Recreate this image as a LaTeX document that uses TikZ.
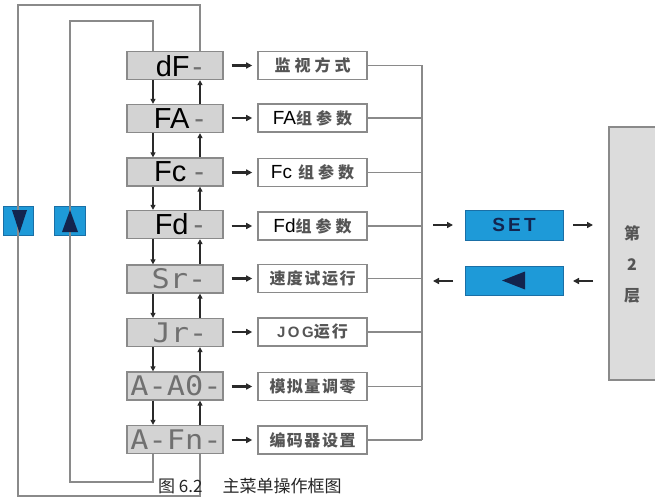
\documentclass[tikz,border=0pt]{standalone}
\usepackage{fontspec}
\setmainfont{Liberation Sans}
\newfontfamily\cjk{Noto Sans CJK SC}
\newfontfamily\segfont{DejaVu Sans Mono}
\usetikzlibrary{arrows.meta}
\definecolor{loopgray}{HTML}{8A8A8A}
\definecolor{boxgray}{HTML}{D3D3D3}
\definecolor{layergray}{HTML}{DCDCDC}
\definecolor{segcol}{HTML}{707070}
\definecolor{cjkgray}{HTML}{555555}
\definecolor{keyblue}{HTML}{1E9AD8}
\definecolor{keyedge}{HTML}{1A6FA6}
\definecolor{navy}{HTML}{13244E}
\definecolor{arrowdark}{HTML}{2A2A2A}
\newcommand{\gapc}{\hspace{4pt}}
\begin{document}
\begin{tikzpicture}[x=1pt,y=-1pt,
  menubox/.style={draw=loopgray, fill=boxgray, line width=1.3pt, minimum width=96pt, minimum height=28pt, inner sep=0pt},
  descbox/.style={draw=loopgray, fill=white, line width=1.6pt, minimum width=109pt, minimum height=28pt, inner sep=0pt, font=\cjk\bfseries\fontsize{16}{16}\selectfont, text=cjkgray},
  biglabel/.style={inner sep=0pt, font=\fontsize{29}{29}\selectfont},
  seglabel/.style={inner sep=0pt, font=\segfont\fontsize{27}{27}\selectfont, text=segcol},
  loopline/.style={draw=loopgray, line width=1.2pt},
  vert/.style={draw=arrowdark, line width=1.7pt, -{Triangle[length=5pt,width=5pt]}},
  short/.style={draw=arrowdark, line width=2.2pt, -{Triangle[length=6pt,width=6pt]}},
  keybox/.style={draw=keyedge, fill=keyblue, line width=0.8pt, inner sep=0pt},
  layertext/.style={inner sep=0pt, font=\cjk\bfseries\fontsize{16}{16}\selectfont, text=cjkgray},
]
\useasboundingbox (0,0) rectangle (655,497);
\fill[white] (0,0) rectangle (655,497);

% menu boxes (left column)
\foreach \i/\y in {1/65.5,2/118.5,3/172,4/224.5,5/279,6/332.5,7/386,8/439.5}{
  \node[menubox] (L\i) at (175,\y) {};
}
% labels in menu boxes
\node[biglabel] (t1) at (179,66) {dF\hspace{3pt}{\color{segcol}-}};
\node[biglabel] (t2) at (179,118.5) {FA\hspace{5pt}{\color{segcol}-}};
\node[biglabel] (t3) at (179,172) {Fc\hspace{8pt}{\color{segcol}-}};
\node[biglabel] (t4) at (179,224.5) {Fd\hspace{5pt}{\color{segcol}-}};
\node[seglabel] (t5) at (179,279) {\scalebox{1.12}[1]{Sr-}};
\node[seglabel] (t6) at (180,332.5) {\scalebox{1.12}[1]{Jr-}};
\node[seglabel] (t7) at (176,386) {\scalebox{1.12}[1]{A-A0-}};
\node[seglabel] (t8) at (176,439.5) {\scalebox{1.12}[1]{A-Fn-}};

% description boxes (right column)
\node[descbox] (R1) at (312.5,65.5) {监\gapc 视\gapc 方\gapc 式};
\node[descbox] (R2) at (312.5,118) {{\fontspec{Liberation Sans}\mdseries\fontsize{19}{19}\selectfont\color{black}FA}组\gapc 参\gapc 数};
\node[descbox] (R3) at (312.5,172.5) {{\fontspec{Liberation Sans}\mdseries\fontsize{19}{19}\selectfont\color{black}Fc}\hspace{6pt}组\gapc 参\gapc 数};
\node[descbox] (R4) at (312.5,226) {{\fontspec{Liberation Sans}\mdseries\fontsize{19}{19}\selectfont\color{black}Fd}组\gapc 参\gapc 数};
\node[descbox] (R5) at (312.5,278.5) {速\hspace{1.5pt}度\hspace{1.5pt}试\hspace{1.5pt}运\hspace{1.5pt}行};
\node[descbox] (R6) at (312.5,332) {{\fontspec{Liberation Sans}\bfseries\fontsize{15}{15}\selectfont J\,O\,G}运\hspace{2pt}行};
\node[descbox] (R7) at (312.5,386.5) {模\hspace{1.5pt}拟\hspace{1.5pt}量\hspace{1.5pt}调\hspace{1.5pt}零};
\node[descbox] (R8) at (312.5,440) {编\hspace{1.5pt}码\hspace{1.5pt}器\hspace{1.5pt}设\hspace{1.5pt}置};

% short arrows menu -> description
\foreach \i in {1,...,8}{
  \draw[short] ([xshift=8pt]L\i.east |- R\i.west) -- ([xshift=-5pt]R\i.west);
}

% vertical arrows between menu boxes
\foreach \i/\j in {1/2,2/3,3/4,4/5,5/6,6/7,7/8}{
  \draw[vert] ([xshift=-22pt]L\i.south) -- ([xshift=-22pt]L\j.north);
  \draw[vert] ([xshift=25pt]L\j.north) -- ([xshift=25pt]L\i.south);
}

% collecting line on the right
\coordinate (busTop) at (422,65.5);
\coordinate (busBot) at (422,440);
\draw[loopline] (busTop) -- (busBot);
\foreach \i in {1,...,8}{
  \draw[loopline] (R\i.east) -- (R\i.east -| busTop);
}

% key boxes on the left
\node[keybox, minimum width=30pt, minimum height=29pt] (kdown) at (18,220.5) {};
\node[keybox, minimum width=31pt, minimum height=29pt] (kup) at (69.5,220.5) {};

% loop lines
\coordinate (o1) at (200,5);
\coordinate (o2) at (18,5);
\coordinate (o3) at (18,496);
\coordinate (o4) at (200,496);
\draw[loopline] ([xshift=25pt]L1.north) -- (o1) -- (o2) -- (o3) -- (o4) -- ([xshift=25pt]L8.south);
\coordinate (i1) at (153,21);
\coordinate (i2) at (70,21);
\coordinate (i3) at (70,482);
\coordinate (i4) at (153,482);
\draw[loopline] ([xshift=-22pt]L1.north) -- (i1) -- (i2) -- (i3) -- (i4) -- ([xshift=-22pt]L8.south);

% triangles on the key boxes
\fill[navy] (12,210) -- (27,210) -- (19.5,233) -- cycle;
\fill[navy] (62,232) -- (78,232) -- (70,210) -- cycle;

% SET and back keys
\node[keybox, minimum width=98pt, minimum height=30pt, font=\bfseries\fontsize{19}{19}\selectfont, text=navy] (set) at (514,225) {S\,E\,T};
\node[keybox, minimum width=98pt, minimum height=29pt] (back) at (514,280.5) {};
\fill[navy] (502,280.5) -- (525,271.5) -- (525,289.5) -- cycle;

% second layer box
\draw[draw=loopgray, fill=layergray, line width=1.5pt] (609,127) rectangle (664,380);
\node[layertext] (l1) at (632,233) {第};
\node[layertext] (l2) at (632,265) {2};
\node[layertext] (l3) at (632,296) {层};

% arrows around keys
\coordinate (a1) at (433,225); \coordinate (a2) at (453,225);
\coordinate (a3) at (573,225); \coordinate (a4) at (593,225);
\coordinate (b1) at (433,281); \coordinate (b2) at (453,281);
\coordinate (b3) at (573,281); \coordinate (b4) at (593,281);
\draw[short] (a1) -- (a2);
\draw[short] (a3) -- (a4);
\draw[short] (b2) -- (b1);
\draw[short] (b4) -- (b3);

% caption
\node[anchor=west, inner sep=0pt, font=\cjk\fontsize{17}{17}\selectfont, text=black!85] (cap) at (158,486) {图 6.2\hspace{20pt}主菜单操作框图};
\end{tikzpicture}
\end{document}
